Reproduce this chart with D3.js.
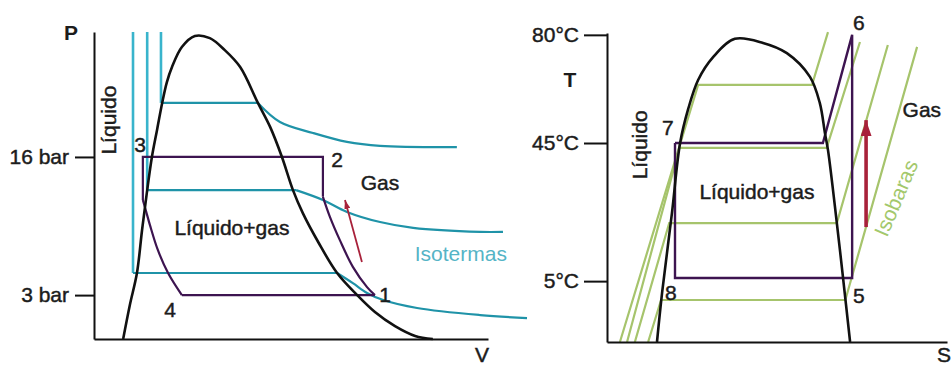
<!DOCTYPE html>
<html><head><meta charset="utf-8">
<script src="https://cdn.jsdelivr.net/npm/d3@7"></script>
<style>
body{margin:0;background:#fff;}
text{font-family:"Liberation Sans",Arial,Helvetica,sans-serif;}
</style>
</head><body>
<svg id="c" width="952" height="365"></svg>
<script>
// ================= DATA (schematic units, 0–100 on each axis) =================
// ---- P–V diagram ----
const pvTickValues = [14.3, 59.3];
const pvTickLabels = ["3 bar", "16 bar"];
const pvDome = [[7.4,0],[9.1,11.1],[10.9,21.5],[12.2,35.5],[13.5,48.5],[14.7,59.3],[16.0,68.1],[17.3,76.9],[18.5,83.7],[19.8,88.6],[22.3,95.1],[25.6,98.7],[29.4,98.0],[33.2,94.1],[37.1,88.6],[41.6,76.9],[44.7,69.1],[47.7,59.3],[50.5,48.5],[53.0,41.0],[56.9,31.6],[61.7,21.5],[66.8,14.3],[71.3,8.8],[76.4,4.2],[81.5,1.0],[86.0,0]];
const isoLiquidU  = [17.0, 13.5, 9.9];
const isoPlateauV = [76.9, 48.5, 21.5];
const isoVaporU   = [41.6, 51.3, 61.7];
const isoGas = [
  [[41.6,76.9],[47.2,70.7],[55.6,67.1],[64.2,64.2],[72.6,62.9],[92.1,62.5]],
  [[51.3,48.5],[58.1,45.3],[64.2,41.4],[72.6,38.1],[81.0,36.2],[98.0,34.9],[103.8,34.9]],
  [[61.7,21.5],[65.7,18.2],[69.3,15.0],[73.4,12.7],[82.0,10.1],[98.0,7.8],[109.9,6.8]]
];
// refrigeration cycle on P–V: straight and curved pieces
const pvCycleStraight = [
  [[12.4,45.3],[12.4,59.3],[58.1,59.3],[58.1,46.3]],
  [[71.3,14.3],[22.3,14.3]]
];
const pvCycleCurved = [
  [[58.1,46.3],[59.9,39.7],[62.4,32.2],[65.7,23.5],[69.3,16.9],[71.3,14.3]],
  [[22.3,14.3],[18.8,21.5],[16.2,29.0],[14.2,37.1],[13.2,41.7],[12.4,45.3]]
];
const pvArrow = [[68.0,25.1],[63.7,45.3]];

// ---- T–S diagram ----
const tsTickValues = [19.7, 64.4, 99.4];
const tsTickLabels = ["5°C", "45°C", "80°C"];
const tsDome = [[14.7,0],[16.2,15.9],[19.1,41.7],[21.5,64.4],[23.8,75.1],[26.8,84.8],[31.2,92.2],[37.6,98.1],[45.9,96.8],[52.9,93.5],[59.7,85.8],[62.6,77.3],[64.1,67.6],[65.0,62.1],[67.6,38.5],[69.4,21.0],[71.5,0]];
const isobarLiqStartU = [3.8, 5.9, 8.2, 12.1];
const isobarLevelV    = [83.2, 62.8, 38.5, 13.6];
const isobarSatLiqU   = [26.8, 21.3, 18.3, 15.9];
const isobarSatVapU   = [60.3, 64.6, 67.6, 70.1];
const isobarGasEnd    = [[65.0,100.3],[74.4,97.1],[82.6,96.1],[91.2,95.5]];
const tsCycle = [[20.0,64.4],[63.5,64.4],[72.1,99.4],[72.1,20.7],[20.0,20.7],[20.0,64.4]];
const tsArrow = [[76.2,37.2],[76.2,71.8]];

// ---- annotations ----
const pvLabelText = ["3","2","1","4","Gas","Líquido+gas"];
const pvLabelAt   = [[11.7,63.2],[61.7,58.3],[73.9,14.3],[19.3,9.4],[72.6,50.8],[35.0,36.2]];
const tsLabelText = ["6","7","8","5","Gas","Líquido+gas"];
const tsLabelAt   = [[74.1,103.2],[17.9,69.3],[18.8,15.9],[74.1,14.9],[92.6,75.1],[44.1,48.5]];

// ================= DRAWING =================
const svg = d3.select("#c");
const FS = 21, INK = "#1c1c1c";
const BLACK = "#111", PURPLE = "#3d1450", TEAL = "#1f93a8", CYAN = "#39b4cc", GREEN = "#a6c46c", RED = "#a8213a";

const defs = svg.append("defs");
function marker(id, w, h, color){
  defs.append("marker").attr("id", id).attr("markerUnits","userSpaceOnUse")
    .attr("viewBox", `0 0 ${h} ${w}`).attr("refX", h).attr("refY", w/2)
    .attr("markerWidth", h).attr("markerHeight", w).attr("orient","auto")
    .append("path").attr("d", `M0,0L${h},${w/2}L0,${w}Z`).attr("fill", color);
}
marker("arrL", 6, 9, RED);
marker("arrR", 11, 16, RED);

function heavy(sel, color){ return sel.attr("stroke", color).attr("stroke-width", 0.45); }

function styleAxis(g){
  g.select(".domain").attr("stroke", BLACK).attr("stroke-width", 2);
  g.selectAll(".tick line").attr("stroke", BLACK).attr("stroke-width", 2);
  heavy(g.selectAll(".tick text").attr("font-size", FS).attr("fill", INK)
    .attr("font-family", '"Liberation Sans",Arial,sans-serif'), INK);
}

// ---------- Left panel: P–V ----------
const xL = d3.scaleLinear().domain([0,100]).range([94,488]);
const yL = d3.scaleLinear().domain([0,100]).range([339,32]);
const linL = d3.line().x(d=>xL(d[0])).y(d=>yL(d[1]));
const crvL = d3.line().x(d=>xL(d[0])).y(d=>yL(d[1])).curve(d3.curveCatmullRom.alpha(0.5));

const L = svg.append("g");
// isotherms
isoLiquidU.forEach((u,i)=>{
  L.append("path").attr("d", linL([[u,100],[u,isoPlateauV[i]]]))
    .attr("fill","none").attr("stroke",CYAN).attr("stroke-width",2.6);
  L.append("path").attr("d", linL([[u,isoPlateauV[i]],[isoVaporU[i],isoPlateauV[i]]]))
    .attr("fill","none").attr("stroke",TEAL).attr("stroke-width",2.2);
  L.append("path").attr("d", crvL(isoGas[i]))
    .attr("fill","none").attr("stroke",TEAL).attr("stroke-width",2.2);
});
// cycle
pvCycleStraight.forEach(s=>L.append("path").attr("d", linL(s)).attr("fill","none")
  .attr("stroke",PURPLE).attr("stroke-width",2.2).attr("stroke-linejoin","miter"));
pvCycleCurved.forEach(s=>L.append("path").attr("d", crvL(s)).attr("fill","none")
  .attr("stroke",PURPLE).attr("stroke-width",2.2));
// dome
L.append("path").attr("d", crvL(pvDome)).attr("fill","none").attr("stroke",BLACK).attr("stroke-width",2.6);
// arrow
L.append("path").attr("d", linL(pvArrow)).attr("stroke",RED).attr("stroke-width",1.8).attr("marker-end","url(#arrL)");
// axes
L.append("g").attr("transform",`translate(${xL(0)},0)`)
  .call(d3.axisLeft(yL).tickValues(pvTickValues).tickFormat((d,i)=>pvTickLabels[i]).tickSize(19).tickSizeOuter(0).tickPadding(6))
  .call(styleAxis);
L.append("g").attr("transform",`translate(0,${yL(0)})`)
  .call(d3.axisBottom(xL).tickValues([]).tickSizeOuter(0)).call(styleAxis);
// labels
pvLabelText.forEach((t,i)=>heavy(L.append("text").attr("x",xL(pvLabelAt[i][0])).attr("y",yL(pvLabelAt[i][1]))
  .attr("dy","0.35em").attr("text-anchor","middle").attr("font-size",FS).attr("fill",INK).text(t), INK));
L.append("text").attr("x",xL(93.1)).attr("y",yL(27.7)).attr("dy","0.35em").attr("text-anchor","middle")
  .attr("font-size",FS).attr("fill","#55b4c6").text("Isotermas");
heavy(L.append("text").attr("transform",`translate(${xL(3.6)},${yL(71.3)}) rotate(-90)`).attr("dy","0.35em")
  .attr("text-anchor","middle").attr("font-size",FS).attr("fill",INK).text("Líquido"), INK);
L.append("text").attr("x",71).attr("y",33).attr("dy","0.35em").attr("text-anchor","middle")
  .attr("font-size",FS).attr("font-weight","bold").attr("fill",INK).text("P");
heavy(L.append("text").attr("x",482).attr("y",355).attr("dy","0.35em").attr("text-anchor","middle")
  .attr("font-size",FS).attr("fill",INK).text("V"), INK);

// ---------- Right panel: T–S ----------
const xR = d3.scaleLinear().domain([0,100]).range([607,947]);
const yR = d3.scaleLinear().domain([0,100]).range([342,33]);
const linR = d3.line().x(d=>xR(d[0])).y(d=>yR(d[1]));
const crvR = d3.line().x(d=>xR(d[0])).y(d=>yR(d[1])).curve(d3.curveCatmullRom.alpha(0.5));

const R = svg.append("g");
// isobars
isobarLevelV.forEach((v,i)=>{
  const pts = [[isobarLiqStartU[i],0],[isobarSatLiqU[i],v],[isobarSatVapU[i],v],isobarGasEnd[i]];
  R.append("path").attr("d", linR(pts)).attr("fill","none").attr("stroke",GREEN).attr("stroke-width",2.2);
});
// cycle
R.append("path").attr("d", linR(tsCycle)).attr("fill","none").attr("stroke",PURPLE)
  .attr("stroke-width",2.4).attr("stroke-linejoin","miter");
// dome
R.append("path").attr("d", crvR(tsDome)).attr("fill","none").attr("stroke",BLACK).attr("stroke-width",2.6);
// arrow
R.append("path").attr("d", linR(tsArrow)).attr("stroke",RED).attr("stroke-width",3.6).attr("marker-end","url(#arrR)");
// axes
R.append("g").attr("transform",`translate(${xR(0)},0)`)
  .call(d3.axisLeft(yR).tickValues(tsTickValues).tickFormat((d,i)=>tsTickLabels[i]).tickSize(23).tickSizeOuter(0).tickPadding(5))
  .call(styleAxis);
R.append("g").attr("transform",`translate(0,${yR(0)})`)
  .call(d3.axisBottom(xR).tickValues([]).tickSizeOuter(0)).call(styleAxis);
// labels
tsLabelText.forEach((t,i)=>heavy(R.append("text").attr("x",xR(tsLabelAt[i][0])).attr("y",yR(tsLabelAt[i][1]))
  .attr("dy","0.35em").attr("text-anchor","middle").attr("font-size",FS).attr("fill",INK).text(t), INK));
R.append("text").attr("transform",`translate(${xR(85.0)},${yR(46.6)}) rotate(-67)`).attr("dy","0.35em")
  .attr("text-anchor","middle").attr("font-size",FS).attr("fill","#a3c86c").text("Isobaras");
heavy(R.append("text").attr("transform",`translate(${xR(9.7)},${yR(63.8)}) rotate(-90)`).attr("dy","0.35em")
  .attr("text-anchor","middle").attr("font-size",FS).attr("fill",INK).text("Líquido"), INK);
R.append("text").attr("x",570).attr("y",80).attr("dy","0.35em").attr("text-anchor","middle")
  .attr("font-size",FS).attr("font-weight","bold").attr("fill",INK).text("T");
heavy(R.append("text").attr("x",944).attr("y",355).attr("dy","0.35em").attr("text-anchor","middle")
  .attr("font-size",FS).attr("fill",INK).text("S"), INK);
</script>
</body></html>
